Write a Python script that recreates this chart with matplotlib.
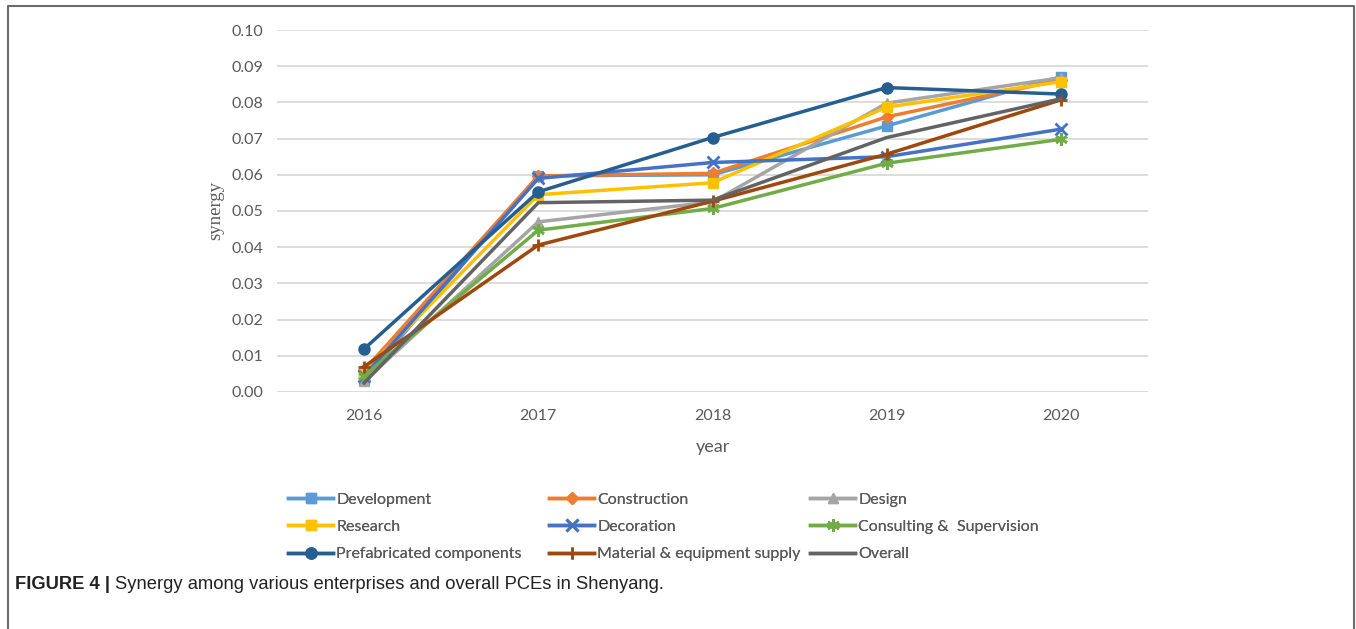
import matplotlib.pyplot as plt
from matplotlib.lines import Line2D

# Data
years = [2016, 2017, 2018, 2019, 2020]
development = [0.0033, 0.0597, 0.0600, 0.0735, 0.0871]
construction = [0.0060, 0.0597, 0.0604, 0.0760, 0.0862]
design = [0.0030, 0.0470, 0.0525, 0.0798, 0.0868]
research = [0.0055, 0.0545, 0.0578, 0.0787, 0.0857]
decoration = [0.0045, 0.0590, 0.0634, 0.0650, 0.0726]
consulting = [0.0045, 0.0447, 0.0507, 0.0632, 0.0698]
prefab = [0.0119, 0.0553, 0.0703, 0.0841, 0.0823]
material = [0.0070, 0.0406, 0.0527, 0.0657, 0.0807]
overall = [0.0025, 0.0523, 0.0530, 0.0703, 0.0810]

names = ['Development', 'Construction', 'Design', 'Research', 'Decoration',
         'Consulting &  Supervision', 'Prefabricated components',
         'Material & equipment supply', 'Overall']
series = [development, construction, design, research, decoration,
          consulting, prefab, material, overall]
colors = ['#5B9BD5', '#ED7D31', '#A5A5A5', '#FFC000', '#4472C4',
          '#70AD47', '#255E91', '#9E480E', '#636363']
markers = ['s', 'D', '^', 's', 'x', (6, 2, 0), 'o', '+', None]
msizes = [7, 6, 7, 7, 8, 9, 8, 9, 0]

plt.rcParams['font.family'] = ['Lato', 'DejaVu Sans']
tick_col = '#595959'

fig = plt.figure(figsize=(13.56, 6.29), dpi=100)
ax = fig.add_axes([0.2043, 0.3768, 0.6423, 0.5755])

handles = []
for name, ys, c, m, ms in zip(names, series, colors, markers, msizes):
    h, = ax.plot(years, ys, color=c, lw=2.5, marker=m, markersize=ms,
                 markeredgewidth=2 if m in ('x', '+', (6, 2, 0)) else 1,
                 markeredgecolor=c, label=name)
    handles.append(h)

ax.set_xlim(2015.5, 2020.5)
ax.set_ylim(0, 0.10)
ax.set_yticks([i / 100 for i in range(11)])
ax.set_yticklabels([f'{i / 100:.2f}' for i in range(11)])
ax.set_xticks(years)
ax.grid(axis='y', color='#D9D9D9', lw=1.3)
ax.set_axisbelow(True)
for s in ax.spines.values():
    s.set_visible(False)
ax.tick_params(length=0, labelsize=11.5, labelcolor=tick_col)
ax.tick_params(axis='y', pad=10)
ax.tick_params(axis='x', pad=12)
ax.set_xlabel('year', fontsize=13, color=tick_col, labelpad=12)
ax.set_ylabel('synergy', fontsize=13.5, color=tick_col,
              family='Liberation Serif', labelpad=5)

# legend: three fixed-width columns, filled row by row in the original
col_x = [0.208, 0.4004, 0.5929]
for k, x0 in enumerate(col_x):
    idx = [k, k + 3, k + 6]
    leg = fig.legend([handles[i] for i in idx], [names[i] for i in idx],
                     loc='upper left', bbox_to_anchor=(x0, 0.2273),
                     frameon=False, fontsize=11.5, labelcolor=tick_col,
                     handlelength=2.8, handletextpad=0.2,
                     labelspacing=0.83, borderaxespad=0)
    fig.add_artist(leg)

# caption
t1 = fig.text(0.011, 0.071, 'FIGURE 4 | ', fontsize=13.2, weight='bold',
              family='Liberation Sans', color='#222222', va='center')
ax.annotate('Synergy among various enterprises and overall PCEs in Shenyang.',
            xy=(1, 0.5), xycoords=t1, va='center', ha='left',
            fontsize=13.2, family='Liberation Sans', color='#222222',
            annotation_clip=False)

# outer frame (open at the bottom)
fx = [0.006, 0.006, 0.9985, 0.9985]
fy = [0.0, 0.9905, 0.9905, 0.0]
fig.add_artist(Line2D(fx, fy, color='#6b6b6b', lw=1.5, transform=fig.transFigure))

fig.savefig('out.png', dpi=100)
